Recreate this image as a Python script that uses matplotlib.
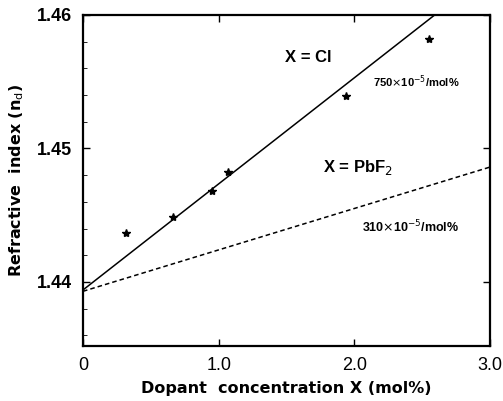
import matplotlib
matplotlib.use("Agg")
import matplotlib.pyplot as plt
import numpy as np
from matplotlib.ticker import MultipleLocator

# Data
star_x = [0.32, 0.66, 0.95, 1.07, 1.94, 2.55]
star_y = [1.4437, 1.4449, 1.4468, 1.4482, 1.4539, 1.4582]

cl_x = [0.0, 2.594]
cl_y = [1.4394, 1.4600]

pbf_x = [0.0, 3.0]
pbf_y = [1.4393, 1.4486]

xticks = [0, 1.0, 2.0, 3.0]
xtick_labels = ["0", "1.0", "2.0", "3.0"]
yticks = [1.44, 1.45, 1.46]
ytick_labels = ["1.44", "1.45", "1.46"]

plt.rcParams['font.family'] = ['Liberation Sans', 'DejaVu Sans']

fig = plt.figure(figsize=(5.03, 4.01), dpi=100)
ax = fig.add_axes([0.165, 0.137, 0.809, 0.826])

ax.plot(cl_x, cl_y, color='black', lw=1.1)
ax.plot(pbf_x, pbf_y, color='black', lw=1.1, ls=(0, (3, 2)))
ax.plot(star_x, star_y, ls='none', marker='*', color='black', ms=6)

ax.set_xlim(0, 3.0)
ax.set_ylim(1.4352, 1.46)
ax.set_xticks(xticks)
ax.set_xticklabels(xtick_labels, fontsize=13)
ax.set_yticks(yticks)
ax.set_yticklabels(ytick_labels, fontsize=13, fontweight='bold')
ax.yaxis.set_minor_locator(MultipleLocator(0.002))
ax.tick_params(direction='in', length=5, width=1, top=True, right=True, pad=8)
ax.tick_params(which='minor', direction='in', length=3, left=True, right=False)
for s in ax.spines.values():
    s.set_linewidth(1.6)

lab_font = dict(family=['DejaVu Sans'], fontsize=11.5, fontweight='bold')
ax.set_xlabel("Dopant  concentration X (mol%)", labelpad=5, **lab_font)
ax.set_ylabel(r"Refractive  index (n$_{\mathrm{d}}$)", labelpad=8, **lab_font)

ax.text(1.49, 1.4565, "X = Cl", fontsize=12, fontweight='bold')
ax.text(2.14, 1.4546, r"750$\times$10$^{-5}$/mol%", fontsize=8, fontweight='bold')
ax.text(1.77, 1.4482, r"X = PbF$_2$", fontsize=12, fontweight='bold')
ax.text(2.06, 1.4437, r"310$\times$10$^{-5}$/mol%", fontsize=9, fontweight='bold')

fig.savefig("out.png", dpi=100)
